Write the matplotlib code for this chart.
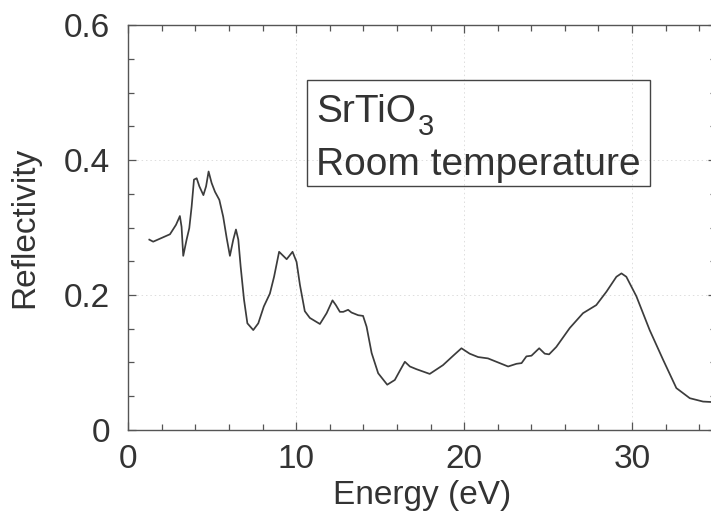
import matplotlib
matplotlib.use("Agg")
import matplotlib.pyplot as plt
from matplotlib.patches import Rectangle
from matplotlib.ticker import MultipleLocator

plt.rcParams['font.family'] = ['Liberation Sans', 'DejaVu Sans']

# Reflectivity spectrum of SrTiO3 at room temperature
energy_ev = [1.25, 1.48, 2.48, 2.84, 3.07, 3.17, 3.27, 3.47, 3.63, 3.77, 3.91,
             4.07, 4.23, 4.47, 4.63, 4.78, 4.96, 5.16, 5.42, 5.65, 5.86, 6.05,
             6.25, 6.41, 6.55, 6.69, 6.89, 7.09, 7.44, 7.74, 8.07, 8.43, 8.68,
             8.98, 9.43, 9.78, 10.02, 10.22, 10.51, 10.81, 11.41, 11.81, 12.16,
             12.36, 12.60, 12.80, 13.09, 13.29, 13.69, 13.98, 14.19, 14.49,
             14.88, 15.42, 15.87, 16.20, 16.47, 16.77, 17.16, 17.95, 18.74,
             19.35, 19.84, 20.33, 20.83, 21.42, 22.02, 22.62, 23.12, 23.42,
             23.71, 24.01, 24.47, 24.80, 25.06, 25.49, 26.29, 27.08, 27.87,
             28.48, 29.07, 29.37, 29.66, 30.26, 31.05, 31.85, 32.64, 33.44,
             34.23, 35.0]
reflectivity = [0.282, 0.279, 0.290, 0.304, 0.317, 0.301, 0.258, 0.282, 0.299,
                0.331, 0.371, 0.373, 0.361, 0.348, 0.361, 0.383, 0.366, 0.353,
                0.341, 0.316, 0.284, 0.258, 0.282, 0.297, 0.282, 0.242, 0.193,
                0.158, 0.148, 0.158, 0.183, 0.202, 0.227, 0.264, 0.253, 0.264,
                0.249, 0.215, 0.176, 0.166, 0.157, 0.173, 0.192, 0.185, 0.175,
                0.175, 0.178, 0.174, 0.170, 0.169, 0.153, 0.114, 0.084, 0.067,
                0.074, 0.089, 0.101, 0.094, 0.090, 0.083, 0.096, 0.110, 0.121,
                0.113, 0.108, 0.106, 0.100, 0.094, 0.098, 0.099, 0.109, 0.110,
                0.121, 0.113, 0.112, 0.123, 0.151, 0.173, 0.185, 0.205, 0.227,
                0.232, 0.227, 0.198, 0.148, 0.104, 0.062, 0.047, 0.042, 0.041]

x_ticks = [0, 10, 20, 30]
y_ticks = [0, 0.2, 0.4, 0.6]
y_tick_labels = ['0', '0.2', '0.4', '0.6']

ink = '#333333'
fig = plt.figure(figsize=(7.11, 5.23), dpi=100)
ax = fig.add_axes([0.1805, 0.178, 0.8265, 0.774])

ax.plot(energy_ev, reflectivity, color='#3c3c3c', lw=1.25, solid_joinstyle='round')

ax.set_xlim(0, 35)
ax.set_ylim(0, 0.6)
ax.set_xticks(x_ticks)
ax.set_yticks(y_ticks)
ax.set_yticklabels(y_tick_labels)
ax.xaxis.set_minor_locator(MultipleLocator(2))
ax.yaxis.set_minor_locator(MultipleLocator(0.05))
ax.tick_params(which='both', direction='in', top=True, right=True,
               colors='#555555', labelcolor=ink, labelsize=24, width=0.9)
ax.tick_params(which='major', length=6)
ax.tick_params(which='minor', length=4)
ax.tick_params(axis='x', which='major', pad=10)
ax.tick_params(axis='y', which='major', pad=13)
for sp in ax.spines.values():
    sp.set_color('#555555')
    sp.set_linewidth(1.0)

ax.grid(True, which='major', color='#dddddd', lw=0.7, ls=(0, (1.5, 3)))
ax.set_axisbelow(True)

ax.set_xlabel('Energy (eV)', fontsize=24, color=ink, labelpad=4)
ax.set_ylabel('Reflectivity', fontsize=24, color=ink, labelpad=17)

# Sample annotation box
ax.add_patch(Rectangle((10.65, 0.361), 20.4, 0.158, fill=False,
                       edgecolor='#444444', lw=1.0, zorder=3))
ax.text(11.2, 0.457, 'SrTiO', fontsize=28, color=ink, va='baseline')
ax.text(17.25, 0.437, '3', fontsize=21, color=ink, va='baseline')
ax.text(11.2, 0.378, 'Room temperature', fontsize=28, color=ink, va='baseline')

fig.savefig('out.png', dpi=100)
